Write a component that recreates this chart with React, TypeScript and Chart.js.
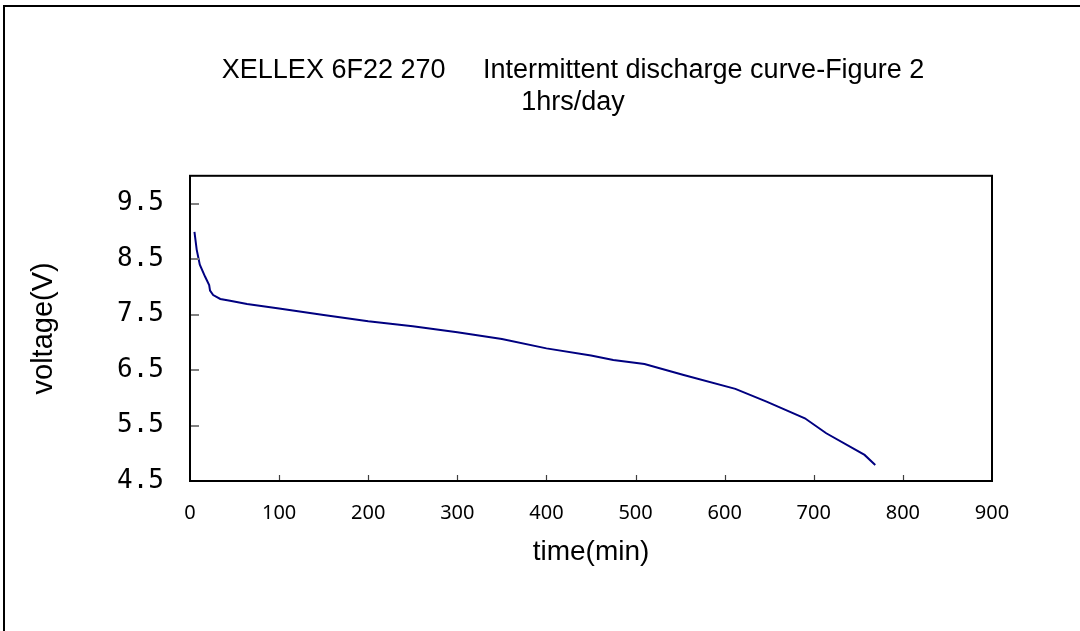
import { useEffect, useRef } from 'react';
import { Chart, registerables } from 'chart.js';

Chart.register(...registerables);

// ---- data ----
const TIME_MIN = [5, 7.5, 11, 17, 21.5, 22.5, 26, 34, 45, 64, 100, 150, 200, 250, 300, 350, 400, 450, 475, 510, 554, 612, 647, 690, 714, 757, 769];
const VOLTAGE = [8.99, 8.67, 8.4, 8.18, 8.03, 7.93, 7.85, 7.78, 7.75, 7.69, 7.61, 7.49, 7.38, 7.29, 7.18, 7.06, 6.89, 6.76, 6.68, 6.61, 6.41, 6.16, 5.93, 5.63, 5.36, 4.97, 4.79];

const X_TICKS = [0, 100, 200, 300, 400, 500, 600, 700, 800, 900];
const Y_TICKS = [4.5, 5.5, 6.5, 7.5, 8.5, 9.5];
const X_MIN = 0;
const X_MAX = 900;
const Y_MIN = 4.5;
const Y_MAX = 10;

const TITLE_LINES = ['XELLEX 6F22 270     Intermittent discharge curve-Figure 2', '1hrs/day'];
const X_LABEL = 'time(min)';
const Y_LABEL = 'voltage(V)';

const CANVAS_W = 1146;
const CANVAS_H = 631;

export default function App() {
  const ref = useRef<HTMLCanvasElement>(null);

  useEffect(() => {
    const canvas = ref.current;
    if (!canvas) return;

    const framePlugin = {
      id: 'frames',
      beforeDraw(chart: any) {
        const ctx = chart.ctx;
        ctx.save();
        ctx.fillStyle = '#ffffff';
        ctx.fillRect(0, 0, chart.width, chart.height);
        ctx.strokeStyle = '#000000';
        ctx.lineWidth = 2;
        ctx.strokeRect(4, 6, chart.width + 40, chart.height + 40);
        ctx.restore();
      },
      afterDraw(chart: any) {
        const { ctx, chartArea: a, scales } = chart;
        ctx.save();
        // inner tick marks on the y axis
        ctx.strokeStyle = '#808080';
        ctx.lineWidth = 2;
        Y_TICKS.forEach((v) => {
          if (v <= Y_MIN) return;
          const py = Math.round(scales.y.getPixelForValue(v));
          ctx.beginPath();
          ctx.moveTo(a.left, py);
          ctx.lineTo(a.left + 9, py);
          ctx.stroke();
        });
        // inner tick marks on the x axis
        ctx.strokeStyle = '#404040';
        ctx.lineWidth = 1.2;
        X_TICKS.forEach((v) => {
          if (v <= X_MIN || v >= X_MAX) return;
          const px = Math.round(scales.x.getPixelForValue(v)) + 0.5;
          ctx.beginPath();
          ctx.moveTo(px, a.bottom);
          ctx.lineTo(px, a.bottom - 6);
          ctx.stroke();
        });
        // plot frame
        ctx.strokeStyle = '#000000';
        ctx.lineWidth = 2;
        ctx.strokeRect(a.left, a.top, a.right - a.left, a.bottom - a.top);
        ctx.restore();
      },
    };

    const chart = new Chart(canvas, {
      type: 'line',
      data: {
        datasets: [
          {
            data: TIME_MIN.map((t, i) => ({ x: t, y: VOLTAGE[i] })),
            borderColor: '#000080',
            borderWidth: 2,
            pointRadius: 0,
            tension: 0,
            fill: false,
          },
        ],
      },
      options: {
        animation: false,
        responsive: false,
        events: [],
        layout: { padding: 0 },
        plugins: {
          legend: { display: false },
          tooltip: { enabled: false },
          title: {
            display: true,
            text: TITLE_LINES,
            color: '#000000',
            font: { family: '"Liberation Sans", Arial, sans-serif', size: 27, weight: 'normal', lineHeight: 1.2 },
            padding: { top: 54, bottom: 57 },
          },
        },
        scales: {
          x: {
            type: 'linear',
            min: X_MIN,
            max: X_MAX,
            afterBuildTicks: (s: any) => {
              s.ticks = X_TICKS.map((v) => ({ value: v }));
            },
            afterFit: (s: any) => {
              s.height = 150;
            },
            grid: { display: false, drawTicks: false },
            border: { display: false },
            ticks: {
              color: '#000000',
              font: { family: '"Noto Sans", sans-serif', size: 20 },
              padding: 20,
              maxRotation: 0,
              autoSkip: false,
              callback: (v: any) => String(v),
            },
            title: {
              display: true,
              text: X_LABEL,
              color: '#000000',
              font: { family: '"Liberation Sans", Arial, sans-serif', size: 28 },
              padding: { top: 0, bottom: 62 },
            },
          },
          y: {
            type: 'linear',
            min: Y_MIN,
            max: Y_MAX,
            afterBuildTicks: (s: any) => {
              s.ticks = Y_TICKS.map((v) => ({ value: v }));
            },
            afterFit: (s: any) => {
              s.width = 190;
            },
            grid: { display: false, drawTicks: false },
            border: { display: false },
            ticks: {
              color: '#000000',
              font: { family: '"DejaVu Sans Mono", monospace', size: 26 },
              padding: 26,
              autoSkip: false,
              callback: (v: any) => Number(v).toFixed(1),
            },
            title: {
              display: true,
              text: Y_LABEL,
              color: '#000000',
              font: { family: '"Liberation Sans", Arial, sans-serif', size: 29 },
              padding: { top: 27, bottom: 0 },
            },
          },
          yR: {
            type: 'linear',
            position: 'right',
            display: true,
            grid: { display: false, drawTicks: false },
            border: { display: false },
            ticks: { display: false },
            afterFit: (s: any) => {
              s.width = CANVAS_W - 992;
            },
          },
        },
      },
      plugins: [framePlugin],
    } as any);

    return () => chart.destroy();
  }, []);

  return (
    <div
      style={{
        position: 'fixed',
        left: 0,
        top: 0,
        width: 1080,
        height: 631,
        overflow: 'hidden',
        background: '#ffffff',
      }}
    >
      <canvas ref={ref} width={CANVAS_W} height={CANVAS_H} style={{ display: 'block' }} />
    </div>
  );
}
